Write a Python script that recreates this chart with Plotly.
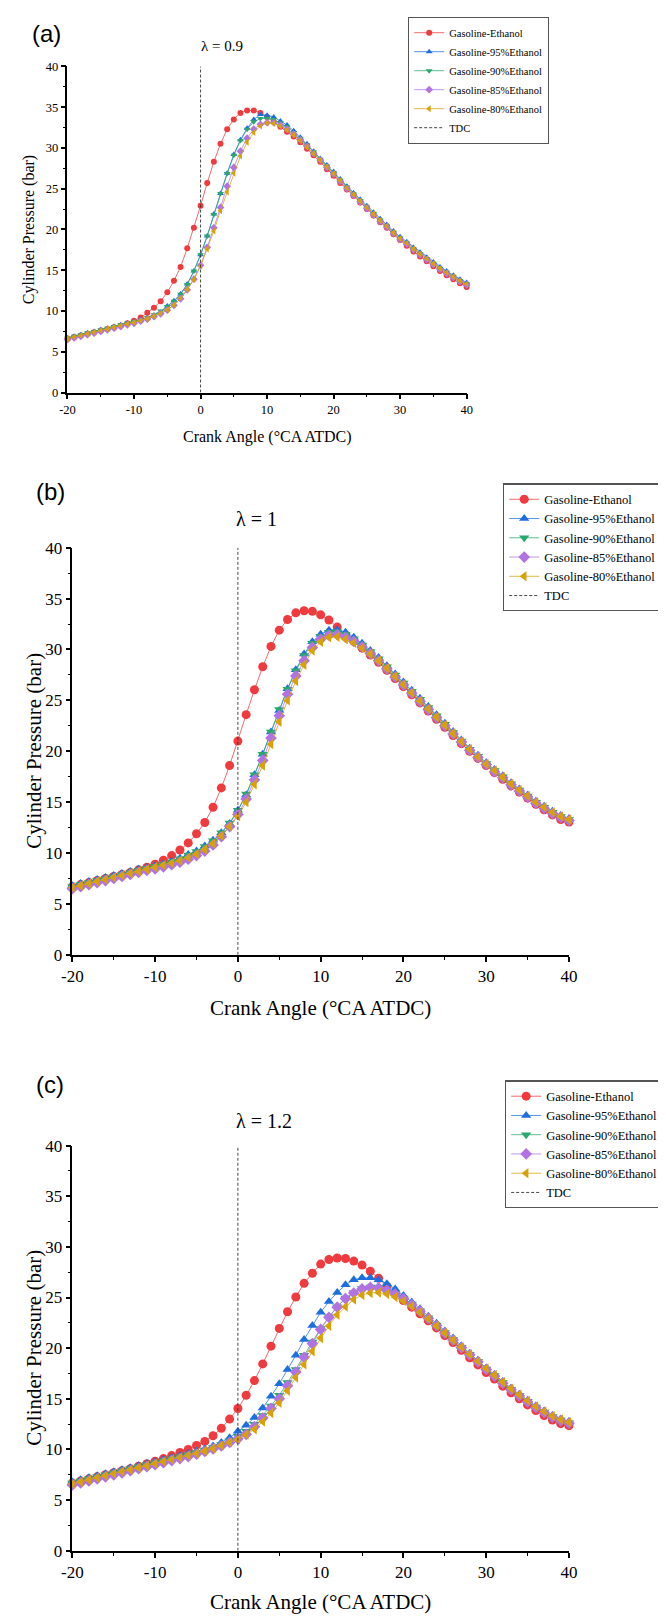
import plotly.graph_objects as go

crank_angle = list(range(-20, 41))
x_tick_vals = [-20, -10, 0, 10, 20, 30, 40]
x_tick_text = ["-20", "-10", "0", "10", "20", "30", "40"]

series_names = ["Gasoline-Ethanol", "Gasoline-95%Ethanol", "Gasoline-90%Ethanol",
                "Gasoline-85%Ethanol", "Gasoline-80%Ethanol"]
series_colors = ["#EF3A3E", "#1D6FE0", "#28A86E", "#B273E2", "#D8A206"]
line_colors = ["rgba(239,58,62,0.75)", "rgba(29,111,224,0.75)", "rgba(40,168,110,0.75)",
               "rgba(178,115,226,0.75)", "rgba(216,162,6,0.75)"]
series_symbols = ["circle", "triangle-up", "triangle-down", "diamond", "triangle-left"]

# ---------- (a) lambda = 0.9 ----------
a_ethanol = [6.6, 6.8, 7.0, 7.2, 7.4, 7.6, 7.8, 8.0, 8.2, 8.5,
             8.8, 9.2, 9.8, 10.4, 11.2, 12.3, 13.7, 15.4, 17.7, 20.2, 22.9,
             25.7, 28.3, 30.5, 32.3, 33.5, 34.3, 34.6, 34.6, 34.3, 33.8,
             33.2, 32.6, 32.0, 31.4, 30.7, 29.9, 29.1, 28.3, 27.4, 26.6,
             25.7, 24.9, 24.1, 23.3, 22.5, 21.7, 20.9, 20.2, 19.4, 18.7,
             18.0, 17.3, 16.7, 16.1, 15.5, 14.9, 14.4, 13.9, 13.4, 12.95]
a_e95 = [6.7, 6.9, 7.1, 7.3, 7.5, 7.7, 7.9, 8.1, 8.3, 8.5,
         8.7, 8.95, 9.2, 9.5, 9.85, 10.6, 11.25, 12.1, 13.3, 14.9, 16.9,
         19.2, 21.9, 24.4, 26.9, 29.2, 31.0, 32.4, 33.5, 34.1, 34.0,
         33.8, 33.3, 32.8, 32.1, 31.3, 30.5, 29.6, 28.7, 27.9, 27.1,
         26.2, 25.3, 24.5, 23.7, 22.9, 22.1, 21.3, 20.6, 19.8, 19.1,
         18.5, 17.8, 17.2, 16.6, 16.0, 15.4, 14.9, 14.4, 13.9, 13.5]
a_e90 = [6.7, 6.9, 7.1, 7.3, 7.5, 7.7, 7.9, 8.1, 8.3, 8.5,
         8.7, 8.9, 9.2, 9.55, 10.0, 10.55, 11.2, 12.05, 13.25, 14.9, 16.9,
         19.2, 21.85, 24.4, 26.85, 29.1, 30.9, 32.3, 33.2, 33.6, 33.6,
         33.5, 33.1, 32.6, 31.9, 31.2, 30.4, 29.5, 28.6, 27.8, 26.95,
         26.05, 25.2, 24.35, 23.55, 22.75, 21.95, 21.15, 20.45, 19.65, 18.95,
         18.35, 17.65, 17.05, 16.45, 15.85, 15.25, 14.75, 14.25, 13.75, 13.35]
a_e85 = [6.5, 6.7, 6.9, 7.1, 7.3, 7.5, 7.7, 7.9, 8.1, 8.3,
         8.5, 8.75, 9.0, 9.3, 9.65, 10.1, 10.7, 11.5, 12.6, 13.9, 15.6,
         17.8, 20.2, 22.7, 25.3, 27.6, 29.6, 31.2, 32.3, 32.9, 33.1,
         33.1, 32.8, 32.3, 31.7, 31.0, 30.2, 29.3, 28.5, 27.6, 26.8,
         25.9, 25.0, 24.2, 23.4, 22.6, 21.8, 21.0, 20.3, 19.5, 18.8,
         18.2, 17.5, 16.9, 16.3, 15.7, 15.1, 14.6, 14.1, 13.6, 13.2]
a_e80 = [6.6, 6.8, 7.0, 7.2, 7.4, 7.6, 7.8, 8.0, 8.2, 8.4,
         8.6, 8.8, 9.05, 9.35, 9.7, 10.15, 10.75, 11.55, 12.65, 13.9, 15.5,
         17.6, 19.8, 22.3, 24.6, 26.9, 29.0, 30.7, 31.9, 32.7, 33.1,
         33.0, 32.7, 32.2, 31.6, 30.9, 30.1, 29.3, 28.5, 27.7, 26.85,
         26.0, 25.1, 24.3, 23.5, 22.7, 21.9, 21.1, 20.4, 19.6, 18.9,
         18.3, 17.6, 17.0, 16.4, 15.8, 15.2, 14.7, 14.2, 13.7, 13.3]

# ---------- (b) lambda = 1 ----------
b_ethanol = [6.7, 6.9, 7.1, 7.3, 7.5, 7.7, 7.9, 8.1, 8.35, 8.6,
             8.9, 9.3, 9.75, 10.3, 11.0, 11.9, 13.0, 14.5, 16.4, 18.6, 21.0,
             23.6, 26.05, 28.3, 30.3, 31.9, 32.95, 33.6, 33.8, 33.75, 33.4,
             32.9, 32.2, 31.4, 30.8, 30.15, 29.45, 28.75, 27.95, 27.15, 26.35,
             25.55, 24.75, 23.95, 23.15, 22.35, 21.55, 20.75, 20.0, 19.3, 18.6,
             17.9, 17.25, 16.6, 16.0, 15.4, 14.8, 14.25, 13.75, 13.3, 13.05]
b_e95 = [6.8, 7.0, 7.2, 7.4, 7.6, 7.8, 8.0, 8.2, 8.4, 8.55,
         8.75, 8.95, 9.2, 9.5, 9.85, 10.2, 10.7, 11.25, 12.0, 12.9, 14.2,
         15.7, 17.7, 19.7, 21.9, 24.0, 26.15, 28.0, 29.55, 30.75, 31.5,
         31.9, 31.95, 31.7, 31.2, 30.6, 29.9, 29.2, 28.4, 27.6, 26.8,
         26.0, 25.2, 24.4, 23.6, 22.75, 21.95, 21.1, 20.3, 19.6, 18.9,
         18.2, 17.6, 16.9, 16.3, 15.7, 15.1, 14.6, 14.1, 13.7, 13.4]
b_e90 = [6.7, 6.9, 7.1, 7.3, 7.5, 7.7, 7.9, 8.1, 8.3, 8.5,
         8.7, 8.9, 9.15, 9.45, 9.8, 10.15, 10.65, 11.2, 12.0, 12.95, 14.2,
         15.8, 17.7, 19.7, 21.9, 24.1, 26.1, 27.9, 29.4, 30.6, 31.3,
         31.7, 31.75, 31.5, 31.05, 30.45, 29.8, 29.1, 28.3, 27.5, 26.7,
         25.9, 25.1, 24.3, 23.5, 22.65, 21.85, 21.0, 20.2, 19.5, 18.8,
         18.1, 17.5, 16.8, 16.2, 15.6, 15.0, 14.5, 14.0, 13.6, 13.3]
b_e85 = [6.5, 6.7, 6.9, 7.1, 7.3, 7.5, 7.7, 7.9, 8.1, 8.3,
         8.45, 8.65, 8.85, 9.1, 9.4, 9.75, 10.2, 10.8, 11.6, 12.6, 13.8,
         15.3, 17.2, 19.1, 21.3, 23.5, 25.6, 27.4, 28.9, 30.2, 31.0,
         31.4, 31.45, 31.2, 30.8, 30.25, 29.6, 28.9, 28.1, 27.3, 26.5,
         25.7, 24.9, 24.1, 23.3, 22.5, 21.7, 20.9, 20.1, 19.4, 18.7,
         18.0, 17.4, 16.7, 16.1, 15.5, 14.9, 14.4, 13.9, 13.5, 13.2]
b_e80 = [6.6, 6.8, 7.0, 7.2, 7.4, 7.6, 7.8, 8.0, 8.2, 8.4,
         8.6, 8.8, 9.0, 9.25, 9.55, 9.9, 10.35, 10.95, 11.7, 12.6, 13.6,
         15.0, 16.75, 18.6, 20.7, 22.9, 25.0, 26.9, 28.5, 29.9, 30.75,
         31.2, 31.25, 31.0, 30.65, 30.15, 29.55, 28.9, 28.15, 27.35, 26.55,
         25.75, 24.95, 24.15, 23.35, 22.55, 21.75, 20.95, 20.2, 19.45, 18.75,
         18.1, 17.45, 16.8, 16.2, 15.6, 15.0, 14.5, 14.0, 13.6, 13.3]

# ---------- (c) lambda = 1.2 ----------
c_ethanol = [6.7, 6.9, 7.1, 7.3, 7.5, 7.7, 7.9, 8.1, 8.35, 8.6,
             8.85, 9.1, 9.4, 9.7, 10.0, 10.4, 10.8, 11.35, 12.1, 13.0, 14.05,
             15.35, 16.8, 18.45, 20.2, 21.95, 23.6, 25.05, 26.4, 27.4, 28.3,
             28.75, 28.9, 28.85, 28.6, 28.2, 27.6, 26.9, 26.1, 25.4, 24.7,
             24.05, 23.4, 22.7, 22.0, 21.25, 20.55, 19.8, 19.05, 18.35, 17.6,
             16.95, 16.25, 15.6, 15.0, 14.4, 13.85, 13.35, 12.9, 12.55, 12.35]
c_e95 = [6.8, 7.0, 7.2, 7.4, 7.6, 7.8, 8.0, 8.2, 8.4, 8.6,
         8.8, 9.0, 9.2, 9.4, 9.6, 9.85, 10.05, 10.35, 10.7, 11.15, 11.8,
         12.4, 13.15, 14.1, 15.25, 16.5, 17.9, 19.3, 20.85, 22.25, 23.55,
         24.6, 25.5, 26.25, 26.75, 26.95, 26.95, 26.75, 26.35, 25.85, 25.2,
         24.55, 23.9, 23.15, 22.45, 21.7, 21.0, 20.25, 19.5, 18.8, 18.05,
         17.4, 16.7, 16.05, 15.45, 14.85, 14.3, 13.8, 13.35, 13.0, 12.75]
c_e90 = [6.7, 6.9, 7.1, 7.3, 7.5, 7.7, 7.9, 8.1, 8.3, 8.5,
         8.7, 8.9, 9.1, 9.3, 9.5, 9.7, 9.95, 10.2, 10.5, 10.85, 11.3,
         11.8, 12.5, 13.35, 14.3, 15.35, 16.6, 17.9, 19.3, 20.6, 21.95,
         23.1, 24.1, 24.95, 25.5, 25.9, 26.05, 26.0, 25.75, 25.4, 24.95,
         24.35, 23.7, 23.0, 22.3, 21.55, 20.85, 20.1, 19.4, 18.7, 17.95,
         17.3, 16.6, 15.95, 15.35, 14.75, 14.2, 13.7, 13.25, 12.9, 12.65]
c_e85 = [6.5, 6.7, 6.9, 7.1, 7.3, 7.5, 7.7, 7.9, 8.1, 8.3,
         8.5, 8.7, 8.9, 9.1, 9.3, 9.55, 9.8, 10.05, 10.35, 10.7, 11.05,
         11.5, 12.25, 13.1, 14.05, 15.0, 16.3, 17.65, 19.1, 20.45, 21.85,
         23.05, 24.05, 24.9, 25.45, 25.85, 26.0, 25.95, 25.7, 25.35, 24.9,
         24.3, 23.65, 22.95, 22.25, 21.5, 20.8, 20.05, 19.35, 18.65, 17.9,
         17.25, 16.55, 15.9, 15.3, 14.7, 14.15, 13.65, 13.2, 12.85, 12.6]
c_e80 = [6.6, 6.8, 7.0, 7.2, 7.4, 7.6, 7.8, 8.0, 8.2, 8.4,
         8.6, 8.8, 9.0, 9.2, 9.4, 9.6, 9.85, 10.1, 10.4, 10.7, 11.0,
         11.45, 12.0, 12.75, 13.6, 14.6, 15.8, 17.1, 18.4, 19.7, 21.0,
         22.2, 23.3, 24.1, 24.8, 25.25, 25.45, 25.5, 25.35, 25.05, 24.65,
         24.15, 23.55, 22.9, 22.2, 21.5, 20.8, 20.1, 19.4, 18.7, 18.0,
         17.35, 16.65, 16.0, 15.4, 14.8, 14.25, 13.75, 13.3, 12.95, 12.7]

panel_labels = ["(a)", "(b)", "(c)"]
lambda_labels = ["λ = 0.9", "λ = 1", "λ = 1.2"]
x_title = "Crank Angle (°CA ATDC)"
y_title = "Cylinder Pressure (bar)"
tdc_x = [0, 0]
tdc_y = [0, 40]

panels = [
    [a_ethanol, a_e95, a_e90, a_e85, a_e80],
    [b_ethanol, b_e95, b_e90, b_e85, b_e80],
    [c_ethanol, c_e95, c_e90, c_e85, c_e80],
]

W, H = 666, 1618
SERIF = "Liberation Serif, Times New Roman, serif"
SANS = "Liberation Sans, Arial, sans-serif"

# pixel geometry of each panel: (x_left, x_right, y_top, y_bottom)
geom = [(50, 461.5, 50, 380), (55, 567, 537, 949), (55, 567, 1142, 1552)]
tick_font = [12.5, 17, 17]
title_font = [16, 21, 21]
marker_size = [6, 9, 9]
lam_font = [15, 20, 20]
lam_pos = [(209, 29), (245, 508), (253, 1117)]
lab_pos = [(28, 17), (32, 480), (32, 1080)]
legend_pos = [(401, 0, 10.5), (499, 472, 12.5), (501, 1076, 12.5)]
ytitle_x = [11, 16, 16]
xtitle_y = [425, 1003, 1604]

fig = go.Figure()
layout = dict(width=W, height=H, margin=dict(l=0, r=0, t=0, b=0),
              paper_bgcolor="white", plot_bgcolor="white", showlegend=True)
annotations = []


def add_text(text, px, py, size, family, angle=0):
    annotations.append(dict(text=text, x=px / W, y=1 - py / H, xref="paper", yref="paper",
                            xanchor="center", yanchor="middle", showarrow=False,
                            textangle=angle, font=dict(family=family, size=size, color="black")))


for p in range(3):
    xl, xr, yt, yb = geom[p]
    sfx = "" if p == 0 else str(p + 1)
    xa, ya = "x" + sfx, "y" + sfx
    leg = "legend" + sfx
    for i in range(5):
        fig.add_trace(go.Scatter(
            x=crank_angle, y=panels[p][i], name=series_names[i],
            mode="lines+markers", xaxis=xa, yaxis=ya, legend=leg,
            line=dict(color=line_colors[i], width=1),
            marker=dict(symbol=series_symbols[i], size=marker_size[p],
                        color=series_colors[i], line=dict(width=0)),
            cliponaxis=False))
    fig.add_trace(go.Scatter(
        x=tdc_x, y=tdc_y, name="TDC", mode="lines", xaxis=xa, yaxis=ya,
        legend=leg, line=dict(color="#333333", width=0.9, dash="3px,2px")))

    axis_common = dict(showline=True, linecolor="black", linewidth=1.6,
                       ticks="outside", tickcolor="black", tickwidth=1.5, ticklen=5,
                       showgrid=False, zeroline=False, mirror=False,
                       tickfont=dict(family=SERIF, size=tick_font[p], color="black"))
    layout["xaxis" + sfx] = dict(axis_common, domain=[xl / W, xr / W], anchor=ya,
                                 range=[-20, 40], tickmode="array",
                                 tickvals=x_tick_vals, ticktext=x_tick_text,
                                 minor=dict(dtick=5, tick0=0, ticks="outside", ticklen=3,
                                            tickwidth=1.3, tickcolor="black"))
    layout["yaxis" + sfx] = dict(axis_common, domain=[1 - yb / H, 1 - yt / H], anchor=xa,
                                 range=[0, 40], dtick=5, tick0=0,
                                 minor=dict(dtick=2.5, ticks="outside", ticklen=3,
                                            tickwidth=1.3, tickcolor="black"))
    lx, ly, lfs = legend_pos[p]
    layout[leg] = dict(x=lx / W, y=1 - ly / H, xanchor="left", yanchor="top",
                       bgcolor="white", bordercolor="#555555", borderwidth=1.2,
                       font=dict(family=SERIF, size=lfs, color="black"),
                       tracegroupgap=0, itemwidth=30)

    add_text(panel_labels[p], lab_pos[p][0], lab_pos[p][1], 24, SANS)
    add_text(lambda_labels[p], lam_pos[p][0], lam_pos[p][1], lam_font[p], SERIF)
    add_text(x_title, (xl + xr) / 2, xtitle_y[p], title_font[p], SERIF)
    add_text(y_title, ytitle_x[p], (yt + yb) / 2, title_font[p], SERIF, angle=-90)

layout["annotations"] = annotations
fig.update_layout(**layout)
fig.write_html("out.html")
